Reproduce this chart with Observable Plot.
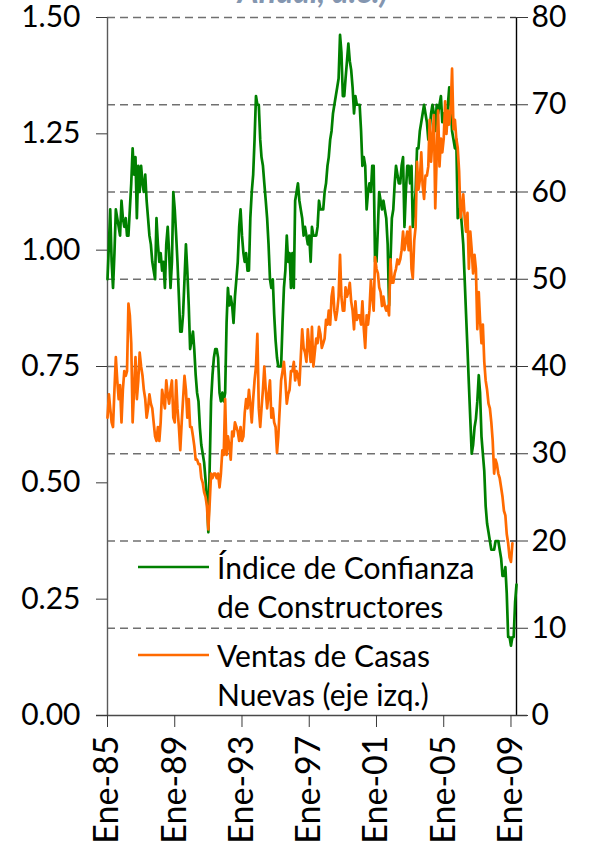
<!DOCTYPE html>
<html>
<head>
<meta charset="utf-8">
<script src="https://cdn.jsdelivr.net/npm/d3@7"></script>
<script src="https://cdn.jsdelivr.net/npm/@observablehq/plot@0.6"></script>
<style>
  html, body { margin: 0; padding: 0; background: #fff; }
  #wrap { position: relative; width: 590px; height: 848px; overflow: hidden; font-family: Lato, "Open Sans", sans-serif; }
  #overlay { position: absolute; left: 0; top: 0; pointer-events: none; }
</style>
</head>
<body>
<div id="wrap"></div>
<script>
// ---- Data (monthly, from Jan 1985) ----
// Índice de Confianza de Constructores (right axis, 0-80)
const confianza = [
  50, 54, 58, 52, 49, 53, 58, 57, 56, 55, 59, 57,   // 1985
  56, 57, 55, 55, 58, 61, 65, 62, 64, 57, 63, 60,   // 1986
  63, 61, 60, 62, 59, 57, 55, 54, 52, 51, 50, 57,   // 1987
  54, 52, 53, 51, 52, 49, 54, 56, 53, 49, 52, 60,   // 1988
  58, 55, 52, 48, 44, 44, 46, 50, 54, 51, 47, 42,   // 1989
  43, 44, 42, 39, 37, 36, 33, 31, 30, 29, 27, 25,   // 1990
  21, 29, 36, 39, 41, 42, 42, 41, 37, 36, 37, 36,   // 1991
  37, 45, 49, 47, 48, 47, 45, 48, 50, 52, 56, 58,   // 1992
  55, 53, 52, 53, 51, 51, 57, 60, 62, 66, 71, 70,   // 1993
  70, 66, 64, 63, 61, 59, 57, 54, 50, 49, 50, 46,   // 1994
  43, 41, 40, 40, 40, 45, 49, 51, 55, 52, 53, 49,   // 1995
  53, 49, 59, 60, 61, 59, 58, 57, 55, 56, 55, 54,   // 1996
  55, 52, 56, 55, 55, 55, 56, 59, 58, 58, 58, 60,   // 1997
  61, 63, 64, 66, 67, 69, 70, 71, 72, 73, 78, 76,   // 1998
  71, 71, 73, 75, 77, 75, 74, 72, 69, 71, 70, 70,   // 1999
  70, 67, 63, 64, 63, 58, 60, 61, 60, 63, 63, 52,   // 2000
  52, 56, 60, 59, 58, 59, 58, 57, 54, 47, 52, 57,   // 2001
  58, 61, 63, 62, 61, 61, 63, 64, 56, 60, 63, 63,   // 2002
  61, 63, 56, 58, 60, 65, 65, 67, 68, 69, 70, 69,   // 2003
  68, 66, 67, 69, 70, 69, 67, 70, 69, 70, 71, 68,   // 2004
  69, 68, 67, 70, 72, 70, 67, 66, 65, 66, 57, 58,   // 2005
  58, 56, 54, 50, 46, 42, 38, 34, 30, 31, 33, 34,   // 2006
  36, 39, 37, 32, 30, 28, 24, 22, 21, 20, 19, 19,   // 2007
  19, 20, 20, 20, 19, 18, 16, 16, 17, 14, 9, 9,     // 2008
  8, 9, 9, 13, 15                                   // 2009
];
// Ventas de Casas Nuevas (millones, left axis)
const ventas = [
  0.64, 0.69, 0.66, 0.63, 0.62, 0.70, 0.77, 0.72, 0.68, 0.71, 0.63, 0.70,  // 1985
  0.74, 0.73, 0.74, 0.885, 0.86, 0.80, 0.63, 0.70, 0.77, 0.68, 0.72, 0.78, // 1986
  0.75, 0.73, 0.70, 0.68, 0.64, 0.66, 0.69, 0.67, 0.66, 0.63, 0.60, 0.59,  // 1987
  0.62, 0.59, 0.63, 0.70, 0.68, 0.66, 0.72, 0.69, 0.67, 0.70, 0.72, 0.64,  // 1988
  0.63, 0.72, 0.66, 0.62, 0.57, 0.63, 0.68, 0.73, 0.70, 0.64, 0.68, 0.62,  // 1989
  0.62, 0.60, 0.58, 0.55, 0.55, 0.54, 0.54, 0.51, 0.50, 0.48, 0.47, 0.45,  // 1990
  0.40, 0.46, 0.52, 0.51, 0.52, 0.52, 0.51, 0.52, 0.49, 0.52, 0.57, 0.56,  // 1991
  0.68, 0.56, 0.60, 0.58, 0.55, 0.61, 0.60, 0.63, 0.62, 0.61, 0.59, 0.62,  // 1992
  0.59, 0.60, 0.65, 0.68, 0.66, 0.70, 0.67, 0.63, 0.68, 0.72, 0.75, 0.82,  // 1993
  0.66, 0.62, 0.66, 0.70, 0.75, 0.70, 0.66, 0.69, 0.72, 0.64, 0.66, 0.63,  // 1994
  0.62, 0.565, 0.60, 0.66, 0.72, 0.74, 0.76, 0.72, 0.67, 0.69, 0.70, 0.74, // 1995
  0.74, 0.76, 0.72, 0.74, 0.73, 0.71, 0.77, 0.83, 0.79, 0.78, 0.76, 0.83,  // 1996
  0.79, 0.76, 0.835, 0.75, 0.78, 0.81, 0.80, 0.835, 0.82, 0.79, 0.80, 0.81, // 1997
  0.85, 0.84, 0.87, 0.84, 0.90, 0.92, 0.87, 0.85, 0.87, 0.90, 0.99, 0.90,  // 1998
  0.87, 0.87, 0.92, 0.90, 0.91, 0.93, 0.89, 0.87, 0.83, 0.89, 0.85, 0.86,  // 1999
  0.86, 0.84, 0.89, 0.83, 0.79, 0.86, 0.84, 0.87, 0.935, 0.90, 0.87, 0.985, // 2000
  0.96, 0.95, 0.92, 0.91, 0.88, 0.90, 0.88, 0.87, 0.88, 0.86, 0.98, 0.93,  // 2001
  0.93, 0.95, 0.96, 0.98, 0.97, 0.98, 1.00, 1.04, 1.00, 1.02, 1.04, 1.00,  // 2002
  1.05, 0.96, 0.94, 1.02, 1.05, 1.19, 1.13, 1.15, 1.21, 1.14, 1.11, 1.16,  // 2003
  1.16, 1.18, 1.28, 1.19, 1.24, 1.29, 1.09, 1.20, 1.30, 1.18, 1.24, 1.21,  // 2004
  1.24, 1.32, 1.25, 1.30, 1.27, 1.30, 1.39, 1.26, 1.28, 1.24, 1.22, 1.17,  // 2005
  1.07, 1.09, 1.12, 1.07, 1.04, 1.08, 0.96, 1.04, 1.00, 0.95, 0.99, 0.96,  // 2006
  0.83, 0.91, 0.85, 0.80, 0.84, 0.76, 0.72, 0.70, 0.67, 0.66, 0.63, 0.59,  // 2007
  0.52, 0.55, 0.54, 0.52, 0.51, 0.49, 0.47, 0.44, 0.43, 0.39, 0.37, 0.34,  // 2008
  0.33, 0.37                                                               // 2009
];
const leftTicks = [0, 0.25, 0.5, 0.75, 1.0, 1.25, 1.5];
const rightTicks = [0, 10, 20, 30, 40, 50, 60, 70, 80];
const xTickYears = [1985, 1989, 1993, 1997, 2001, 2005, 2009];
const legendLines = [["Índice de Confianza", "de Constructores"], ["Ventas de Casas", "Nuevas (eje izq.)"]];
const titleText = "Anual, a.e.)";

// ---- Build ----
const startYear = 1985;
const rightMax = 80, leftMax = 1.5;
const toLeft = v => v * leftMax / rightMax;
const monthDate = i => new Date(Date.UTC(startYear, i, 1));
const greenData = confianza.map((v, i) => ({date: monthDate(i), y: toLeft(v)}));
const orangeData = ventas.map((v, i) => ({date: monthDate(i), y: v}));
const xStart = monthDate(0);
const xEnd = monthDate(confianza.length - 1);
const xTicks = xTickYears.map(y => new Date(Date.UTC(y, 0, 1)));

const GREEN = "#008000", ORANGE = "#ff6a00";
const FS = 30;

const chart = Plot.plot({
  width: 590,
  height: 848,
  marginLeft: 107,
  marginRight: 74,
  marginTop: 17,
  marginBottom: 133,
  style: {fontFamily: "Lato, sans-serif", fontSize: FS + "px", color: "#000", background: "#fff"},
  x: {type: "utc", domain: [xStart, xEnd]},
  y: {domain: [0, leftMax]},
  marks: [
    Plot.gridY(rightTicks.filter(d => d > 0).map(toLeft), {stroke: "#707070", strokeOpacity: 1, strokeWidth: 1.5, strokeDasharray: "8,5"}),
    Plot.ruleX([xStart], {y1: 0, y2: leftMax, stroke: "#5a5a5a", strokeWidth: 1.4}),
    Plot.ruleX([xEnd], {y1: 0, y2: leftMax, stroke: "#000", strokeWidth: 1.4}),
    Plot.ruleY([0], {stroke: "#4a4a4a", strokeWidth: 1.4, insetLeft: -11, insetRight: -11}),
    Plot.axisY(leftTicks, {anchor: "left", tickSize: 11, tickPadding: 16, stroke: "#3a3a3a", fill: "#000", fontSize: FS, tickFormat: d => d.toFixed(2), label: null}),
    Plot.axisY(rightTicks.map(toLeft), {anchor: "right", tickSize: 18, dx: -7, tickPadding: 4, stroke: "#3a3a3a", fill: "#000", fontSize: FS, tickFormat: d => String(Math.round(d * rightMax / leftMax)), label: null}),
    Plot.axisX(xTicks, {anchor: "bottom", tickSize: 12, tickPadding: 8, tickRotate: -90, stroke: "#3a3a3a", fill: "#000", fontSize: 34, tickFormat: d => "Ene-" + String(d.getUTCFullYear()).slice(2), label: null}),
    Plot.lineY(greenData, {x: "date", y: "y", stroke: GREEN, strokeWidth: 2.7}),
    Plot.lineY(orangeData, {x: "date", y: "y", stroke: ORANGE, strokeWidth: 2.7})
  ]
});

const wrap = document.getElementById("wrap");
wrap.appendChild(chart);

// Overlay: clipped title and in-plot legend
const NS = "http://www.w3.org/2000/svg";
const ov = document.createElementNS(NS, "svg");
ov.setAttribute("id", "overlay");
ov.setAttribute("width", 590);
ov.setAttribute("height", 848);
function el(tag, attrs, text) {
  const e = document.createElementNS(NS, tag);
  for (const k in attrs) e.setAttribute(k, attrs[k]);
  if (text) e.textContent = text;
  ov.appendChild(e);
  return e;
}
el("text", {x: 313, y: 3, "text-anchor": "middle", "font-family": "Lato, sans-serif", "font-size": 32, "font-style": "italic", "font-weight": "bold", fill: "#8496b0"}, titleText);

const legendRows = [
  {color: GREEN, lines: legendLines[0], y: 567},
  {color: ORANGE, lines: legendLines[1], y: 655}
];
legendRows.forEach(r => {
  el("line", {x1: 138, x2: 209, y1: r.y, y2: r.y, stroke: r.color, "stroke-width": 2.7});
  r.lines.forEach((t, i) => {
    el("text", {x: 217, y: r.y + 12 + i * 39, "font-family": "Lato, sans-serif", "font-size": 30, fill: "#000"}, t);
  });
});
wrap.appendChild(ov);
</script>
</body>
</html>
